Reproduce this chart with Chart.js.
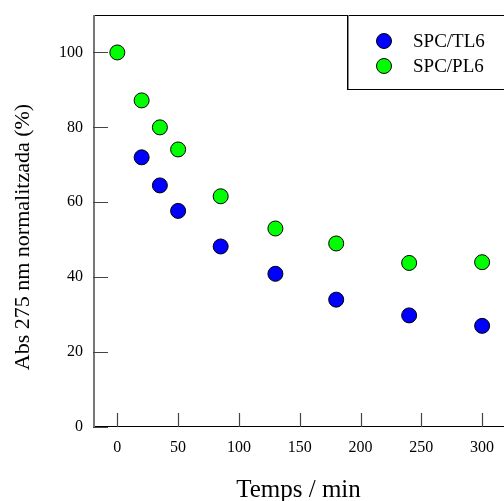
<!DOCTYPE html>
<html>
<head>
<meta charset="utf-8">
<script src="https://cdn.jsdelivr.net/npm/chart.js@4.4.0/dist/chart.umd.min.js"></script>
<style>
  html, body { margin: 0; padding: 0; background: #fff; }
  #wrap { width: 504px; height: 501px; }
</style>
</head>
<body>
<div id="wrap"><canvas id="myChart"></canvas></div>
<script>
const tiempos = [0, 20, 35, 50, 85, 130, 180, 240, 300]
const valoresTL6 = [null, 72, 64.5, 57.7, 48.2, 40.9, 34, 29.8, 27]
const valoresPL6 = [100, 87.2, 80, 74.1, 61.6, 53, 49, 43.8, 44]
const ticksX = [0, 50, 100, 150, 200, 250, 300]
const ticksY = [0, 20, 40, 60, 80, 100]
const etiquetas = ['SPC/TL6', 'SPC/PL6']
const tituloY = 'Abs 275 nm normalitzada (%)'

function puntos(vals) {
    const arr = []
    for (let i = 0; i < tiempos.length; i++) {
        if (vals[i] !== null) arr.push({ x: tiempos[i], y: vals[i] })
    }
    return arr
}

const serif = "'Liberation Serif', 'Times New Roman', serif"

// ticks hacia dentro, marco, titulo Y y leyenda dentro del area
const marco = {
    id: 'marco',
    afterDraw(chart) {
        const c = chart.ctx
        const a = chart.chartArea
        const sx = chart.scales.x
        const sy = chart.scales.y
        c.save()
        c.strokeStyle = '#000'
        c.lineWidth = 1
        c.beginPath()
        c.moveTo(a.left, a.top + 0.5)
        c.lineTo(a.right, a.top + 0.5)
        c.moveTo(a.left, a.bottom - 0.5)
        c.lineTo(a.right, a.bottom - 0.5)
        c.stroke()
        c.strokeStyle = '#777'
        c.lineWidth = 2
        c.beginPath()
        c.moveTo(a.left + 1, a.top)
        c.lineTo(a.left + 1, a.bottom)
        c.stroke()
        c.strokeStyle = '#444'
        c.lineWidth = 1.2
        c.beginPath()
        ticksX.forEach(v => {
            const px = Math.round(sx.getPixelForValue(v)) + 0.5
            c.moveTo(px, a.bottom)
            c.lineTo(px, a.bottom - 14)
        })
        ticksY.forEach(v => {
            const py = Math.round(sy.getPixelForValue(v)) + 0.5
            c.moveTo(a.left, py)
            c.lineTo(a.left + 15, py)
        })
        c.stroke()

        // titulo eje Y
        c.save()
        c.translate(23, 237)
        c.rotate(-Math.PI / 2)
        c.fillStyle = '#000'
        c.font = '22px ' + serif
        c.textAlign = 'center'
        c.textBaseline = 'middle'
        c.fillText(tituloY, 0, 0)
        c.restore()

        // leyenda
        const lx = 347, ly = 15, lw = 200, lh = 74
        c.strokeStyle = '#000'
        c.lineWidth = 1
        c.strokeRect(lx + 0.5, ly + 0.5, lw, lh)
        c.strokeStyle = '#888'
        c.beginPath()
        c.moveTo(lx + 1.5, ly)
        c.lineTo(lx + 1.5, ly + lh)
        c.stroke()
        chart.data.datasets.forEach((ds, i) => {
            const cy = 41 + i * 25
            c.beginPath()
            c.arc(384, cy, 7.5, 0, Math.PI * 2)
            c.fillStyle = ds.backgroundColor
            c.fill()
            c.strokeStyle = '#000'
            c.lineWidth = 1
            c.stroke()
            c.fillStyle = '#000'
            c.font = '19px ' + serif
            c.textBaseline = 'middle'
            c.textAlign = 'left'
            c.fillText(ds.label, 413, cy + 1)
        })
        c.restore()
    }
}

function sinPadding(s) {
    s.paddingTop = 0
    s.paddingBottom = 0
    s.paddingLeft = 0
    s.paddingRight = 0
}

function grafico() {
    const ctx = document.getElementById('myChart')
    new Chart(ctx, {
        type: 'scatter',
        data: {
            datasets: [
                {
                    label: etiquetas[0],
                    data: puntos(valoresTL6),
                    backgroundColor: '#0000ff',
                    borderColor: '#000',
                    borderWidth: 1,
                    pointRadius: 7.5,
                    pointHoverRadius: 7.5
                },
                {
                    label: etiquetas[1],
                    data: puntos(valoresPL6),
                    backgroundColor: '#00ff00',
                    borderColor: '#000',
                    borderWidth: 1,
                    pointRadius: 7.5,
                    pointHoverRadius: 7.5
                }
            ]
        },
        options: {
            responsive: true,
            maintainAspectRatio: false,
            animation: false,
            layout: { autoPadding: false, padding: { top: 15, right: 0, left: 0, bottom: 0 } },
            plugins: {
                legend: { display: false },
                tooltip: { enabled: false }
            },
            scales: {
                x: {
                    type: 'linear',
                    min: -20,
                    max: 318,
                    afterFit: s => { s.height = 74; sinPadding(s) },
                    afterBuildTicks: s => { s.ticks = ticksX.map(v => ({ value: v })) },
                    border: { display: false },
                    grid: { display: false, drawTicks: false },
                    ticks: {
                        color: '#000',
                        padding: 11,
                        font: { family: serif, size: 16 }
                    },
                    title: {
                        display: true,
                        text: 'Temps / min',
                        color: '#000',
                        padding: { top: 0, bottom: -4 },
                        font: { family: serif, size: 25 }
                    }
                },
                y: {
                    min: 0,
                    max: 110,
                    afterFit: s => { s.width = 93; sinPadding(s) },
                    afterBuildTicks: s => { s.ticks = ticksY.map(v => ({ value: v })) },
                    border: { display: false },
                    grid: { display: false, drawTicks: false },
                    ticks: {
                        color: '#000',
                        padding: 10,
                        font: { family: serif, size: 16 }
                    },
                    title: { display: false }
                }
            }
        },
        plugins: [marco]
    })
}

grafico()
</script>
</body>
</html>
